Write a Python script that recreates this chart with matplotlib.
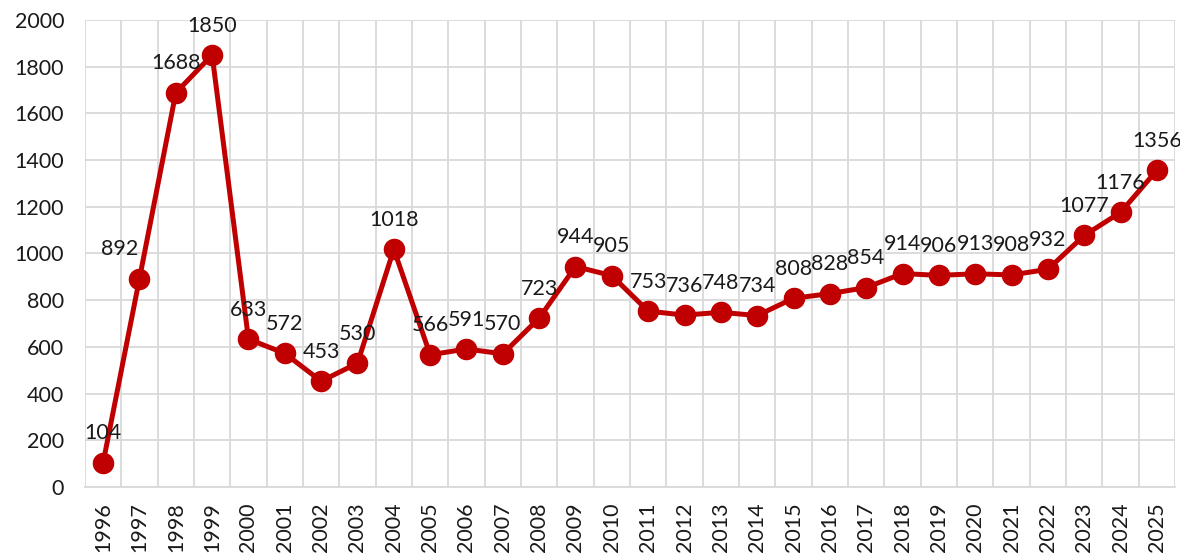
import matplotlib
matplotlib.use('Agg')
import matplotlib.pyplot as plt
import numpy as np

years = list(range(1996, 2026))
values = [104, 892, 1688, 1850, 633, 572, 453, 530, 1018, 566,
          591, 570, 723, 944, 905, 753, 736, 748, 734, 808,
          828, 854, 914, 906, 913, 908, 932, 1077, 1176, 1356]

# small horizontal nudge for a label that was moved to avoid the line
label_shift = {1997: -14}

plt.rcParams['font.family'] = ['Lato', 'DejaVu Sans']
red = '#C00000'
grid_col = '#D9D9D9'
txt_col = '#1a1a1a'

fig = plt.figure(figsize=(11.8, 5.54), dpi=100)
ax = fig.add_axes([0.072, 0.121, 0.9238, 0.843])

x = np.arange(len(years))
ax.plot(x, values, color=red, linewidth=3.6, marker='o', markersize=14.5,
        markerfacecolor=red, markeredgecolor=red, zorder=3, clip_on=False)

for xi, yr, v in zip(x, years, values):
    ax.annotate(str(v), xy=(xi, v), xytext=(label_shift.get(yr, 0), 14),
                textcoords='offset points', ha='center', va='bottom',
                fontsize=15.5, color=txt_col, zorder=4)

ax.set_xlim(-0.5, len(years) - 0.5)
ax.set_ylim(0, 2000)
ax.set_yticks(range(0, 2001, 200))
ax.set_xticks(x)
ax.set_xticklabels([str(y) for y in years], rotation=90)
ax.set_xticks(np.arange(-0.5, len(years), 1.0), minor=True)

ax.grid(True, which='major', axis='y', color=grid_col, linewidth=1.3)
ax.grid(True, which='minor', axis='x', color=grid_col, linewidth=1.3)
ax.set_axisbelow(True)

for s in ['top', 'right', 'left']:
    ax.spines[s].set_visible(False)
ax.spines['bottom'].set_color(grid_col)
ax.spines['bottom'].set_linewidth(1.3)

ax.tick_params(axis='both', which='both', length=0, labelsize=15.5, colors=txt_col)
ax.tick_params(axis='y', pad=15)
ax.tick_params(axis='x', pad=11)

fig.savefig('out.png', dpi=100)
